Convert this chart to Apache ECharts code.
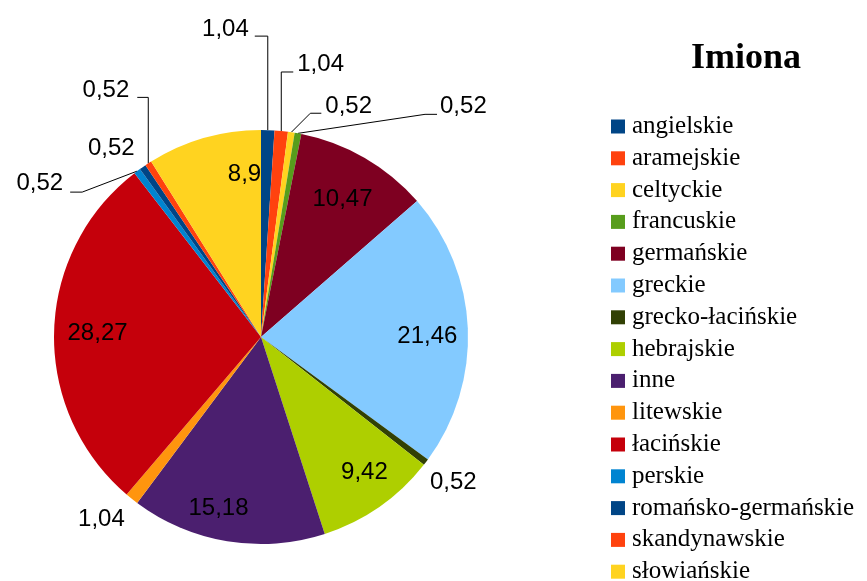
<!DOCTYPE html>
<html>
<head>
<meta charset="utf-8">
<script src="https://cdn.jsdelivr.net/npm/echarts@6/dist/echarts.min.js"></script>
<style>
  html, body { margin: 0; padding: 0; background: #fff; }
  #chart { width: 867px; height: 581px; }
</style>
</head>
<body>
<div id="chart"></div>
<script>
const names = ['angielskie', 'aramejskie', 'celtyckie', 'francuskie', 'germańskie', 'greckie',
  'grecko-łacińskie', 'hebrajskie', 'inne', 'litewskie', 'łacińskie', 'perskie',
  'romańsko-germańskie', 'skandynawskie', 'słowiańskie'];
const values = [1.04, 1.04, 0.52, 0.52, 10.47, 21.46, 0.52, 9.42, 15.18, 1.04, 28.27, 0.52, 0.52, 0.52, 8.9];
const colors = ['#004586', '#ff420e', '#ffd320', '#579d1c', '#7e0021', '#83caff', '#314004',
  '#aecf00', '#4b1f6f', '#ff950e', '#c5000b', '#0084d1', '#004586', '#ff420e', '#ffd320'];

const fmt = v => String(v).replace('.', ',');
const isSmall = v => v < 5;

// leader line shapes for the small slices, relative to the edge anchor
// elbow: [dx, dy] of the bend, tail: horizontal run, text: offset from line end
const leaders = {
  0:  { elbow: [0, -94],  tail: -13, text: [-6, -7] },
  1:  { elbow: [0, -59],  tail: 12,  text: [4, -8] },
  2:  { elbow: [19, -19], tail: 11,  text: [4, -7] },
  3:  { elbow: [127, -19], tail: 12, text: [3, -8] },
  6:  { none: true, text: [4, 20] },
  9:  { none: true, text: [-7, 21] },
  11: { elbow: [-55, 21], tail: -12, text: [-7, -9] },
  12: { none: true, text: [-8, -19] },
  13: { elbow: [0, -66],  tail: -11, text: [-8, -7] }
};
// small nudges of the inside labels (LibreOffice places them a bit off the mid angle)
const insideNudge = {
  4: [-3, 8], 5: [-2, 6], 7: [7, -3], 8: [-15, 5], 10: [5, 1], 14: [30, -1]
};

const labelFont = { fontFamily: 'Liberation Sans, Arial, sans-serif', fontSize: 24, color: '#000' };
const serif = 'Liberation Serif, Times New Roman, serif';

const chart = echarts.init(document.getElementById('chart'));

chart.setOption({
  animation: false,
  title: {
    text: 'Imiona',
    left: 686,
    top: 36,
    textStyle: { fontFamily: serif, fontSize: 36, fontWeight: 'bold', color: '#000' }
  },
  legend: {
    orient: 'vertical',
    left: 606,
    top: 109,
    height: 560,
    itemWidth: 14,
    itemHeight: 14,
    itemGap: 6.8,
    icon: 'rect',
    data: names,
    textStyle: { fontFamily: serif, fontSize: 25, color: '#000', padding: [0, 0, 0, 2] }
  },
  series: [
    {
      type: 'pie',
      center: [261, 337],
      radius: [0, 207],
      startAngle: 90,
      avoidLabelOverlap: false,
      emphasis: { disabled: true },
      data: names.map((n, i) => ({
        name: n,
        value: values[i],
        itemStyle: { color: colors[i] },
        label: { show: isSmall(values[i]) },
        labelLine: { show: isSmall(values[i]) }
      })),
      label: {
        position: 'outside',
        formatter: p => fmt(p.value),
        ...labelFont
      },
      labelLine: { length: 10, length2: 10, lineStyle: { color: '#000', width: 1 } },
      labelLayout: function (params) {
        const cfg = leaders[params.dataIndex];
        if (!cfg || !params.labelLinePoints) return {};
        const a = params.labelLinePoints[0];
        let end, pts;
        if (cfg.none) {
          end = [a[0], a[1]];
          pts = [[a[0], a[1]], [a[0], a[1]]];
        } else {
          const b = [a[0] + cfg.elbow[0], a[1] + cfg.elbow[1]];
          end = [b[0] + cfg.tail, b[1]];
          pts = [[a[0], a[1]], b, end];
        }
        const right = cfg.none ? cfg.text[0] >= 0 : cfg.tail >= 0;
        return {
          x: end[0] + cfg.text[0],
          y: end[1] + cfg.text[1],
          align: right ? 'left' : 'right',
          verticalAlign: 'middle',
          labelLinePoints: pts
        };
      }
    },
    {
      type: 'pie',
      center: [261, 337],
      radius: [124, 207],
      startAngle: 90,
      silent: true,
      legendHoverLink: false,
      emphasis: { disabled: true },
      data: names.map((n, i) => ({
        name: n,
        value: values[i],
        itemStyle: { color: 'rgba(0,0,0,0)' },
        label: { show: !isSmall(values[i]) }
      })),
      label: {
        position: 'inside',
        formatter: p => fmt(p.value),
        ...labelFont
      },
      labelLine: { show: false },
      labelLayout: function (params) {
        const n = insideNudge[params.dataIndex];
        return n ? { dx: n[0], dy: n[1] } : {};
      }
    }
  ]
});
</script>
</body>
</html>
